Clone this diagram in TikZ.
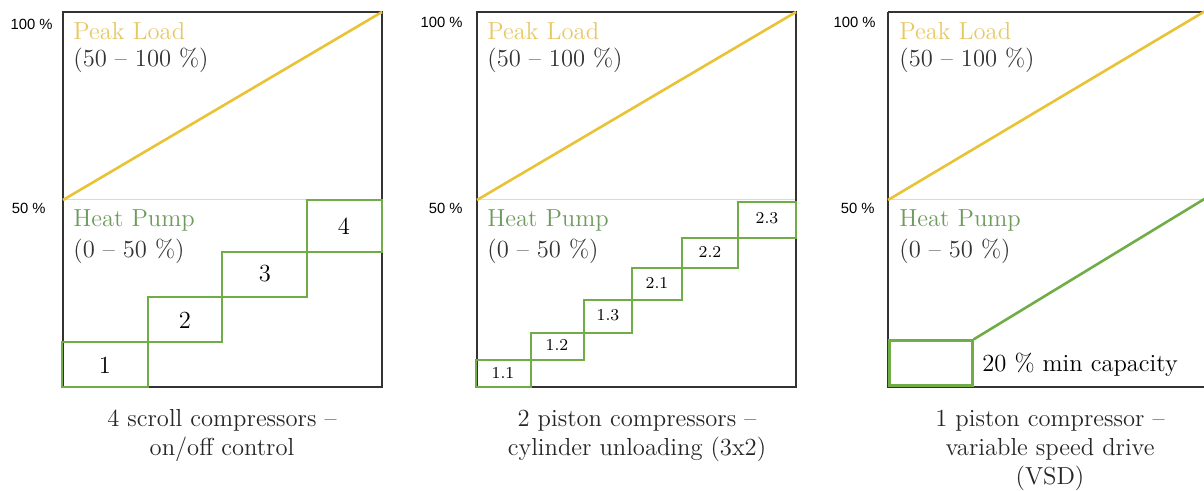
\documentclass[tikz,border=0pt]{standalone}
\usepackage{fontspec}
\newfontfamily\axfont{Liberation Sans}
\definecolor{peak}{HTML}{E9C236}
\definecolor{peaktxt}{HTML}{E8C865}
\definecolor{hp}{HTML}{70AD47}
\definecolor{hptxt}{HTML}{6E9B5E}
\definecolor{frame}{HTML}{333333}
\definecolor{mid}{HTML}{DADADA}
\tikzset{
  big/.style={font=\fontsize{12.3}{15}\selectfont, inner sep=0pt},
  small/.style={font=\fontsize{8.3}{10}\selectfont, inner sep=0pt},
  ax/.style={font=\axfont\fontsize{7.4}{9}\selectfont, inner sep=0pt},
  panel/.style={draw=frame, line width=0.8pt},
  midline/.style={draw=mid, line width=0.5pt},
  peakline/.style={draw=peak, line width=1.3pt},
  stepbox/.style={draw=hp, line width=1.3pt},
  hpline/.style={draw=hp, line width=1.3pt},
  caption/.style={big, align=center, text=black!85, font=\fontsize{12.3}{14.5}\selectfont}
}
\begin{document}
\begin{tikzpicture}[x=0.5pt,y=-0.5pt]
\useasboundingbox (0,0) rectangle (1204,491);
\fill[white] (0,0) rectangle (1204,491);

% ================= Panel 1 =================
\draw[midline] (63,200) -- (382,200);
\draw[panel] (63,12) rectangle (382,387);
\draw[peakline] (63,200) -- (382,12);
\node[ax, anchor=east] (p1a) at (53,24) {100 \%};
\node[ax, anchor=east] (p1b) at (46,208) {50 \%};
\node[big, anchor=west, text=peaktxt] (p1pl) at (73,31) {Peak Load};
\node[big, anchor=west, text=black!80] (p1pr) at (73,60) {(50 -- 100 \%)};
\node[big, anchor=west, text=hptxt] (p1hp) at (73,220) {Heat Pump};
\node[big, anchor=west, text=black!80] (p1hr) at (73,251) {(0 -- 50 \%)};
\draw[stepbox] (62,342) rectangle (148,387);
\draw[stepbox] (148,297) rectangle (222,342);
\draw[stepbox] (222,252) rectangle (307,297);
\draw[stepbox] (307,200) rectangle (382,252);
\node[big] (s1) at (105,365) {1};
\node[big] (s2) at (185,320) {2};
\node[big] (s3) at (265,274) {3};
\node[big] (s4) at (344,226) {4};
\node[caption] (c1) at (222,436) {4 scroll compressors --\\on/off control};

% ================= Panel 2 =================
\draw[midline] (477,200) -- (796,200);
\draw[panel] (477,12) rectangle (796,387);
\draw[peakline] (477,200) -- (796,12);
\node[ax, anchor=east] (p2a) at (463,22) {100 \%};
\node[ax, anchor=east] (p2b) at (463,208) {50 \%};
\node[big, anchor=west, text=peaktxt] (p2pl) at (487,31) {Peak Load};
\node[big, anchor=west, text=black!80] (p2pr) at (487,60) {(50 -- 100 \%)};
\node[big, anchor=west, text=hptxt] (p2hp) at (487,220) {Heat Pump};
\node[big, anchor=west, text=black!80] (p2hr) at (487,251) {(0 -- 50 \%)};
\draw[stepbox] (476,360) rectangle (531,387);
\draw[stepbox] (531,333) rectangle (584,360);
\draw[stepbox] (584,300) rectangle (632,333);
\draw[stepbox] (632,268) rectangle (682,300);
\draw[stepbox] (682,238) rectangle (738,268);
\draw[stepbox] (738,202) rectangle (796,238);
\node[small] (t11) at (503,373) {1.1};
\node[small] (t12) at (557,345) {1.2};
\node[small] (t13) at (608,315) {1.3};
\node[small] (t21) at (657,283) {2.1};
\node[small] (t22) at (710,252) {2.2};
\node[small] (t23) at (767,218) {2.3};
\node[caption] (c2) at (637,436) {2 piston compressors --\\cylinder unloading (3x2)};

% ================= Panel 3 =================
\begin{scope}
\clip (820,0) rectangle (1204,491);
\draw[midline] (888,200) -- (1210,200);
\draw[panel] (888,12) -- (1210,12);
\draw[panel] (888,12) -- (888,387) -- (1210,387);
\draw[peakline] (888,200) -- (1207,10);
\coordinate (vsdend) at (1206,198);
\end{scope}
\node[ax, anchor=east] (p3a) at (876,22) {100 \%};
\node[ax, anchor=east] (p3b) at (875,208) {50 \%};
\node[big, anchor=west, text=peaktxt] (p3pl) at (899,31) {Peak Load};
\node[big, anchor=west, text=black!80] (p3pr) at (899,60) {(50 -- 100 \%)};
\node[big, anchor=west, text=hptxt] (p3hp) at (899,220) {Heat Pump};
\node[big, anchor=west, text=black!80] (p3hr) at (899,251) {(0 -- 50 \%)};
\node[draw=hp, line width=1.3pt, minimum width=41.5pt, minimum height=22.5pt, inner sep=0pt, anchor=south west] (vsd) at (888,387) {};
\begin{scope}
\clip (820,0) rectangle (1204,491);
\draw[hpline] (vsd.north east) -- (vsdend);
\end{scope}
\node[big, anchor=west] (mincap) at (982,365) {20 \% min capacity};
\node[caption] (c3) at (1050,450) {1 piston compressor --\\variable speed drive\\(VSD)};
\end{tikzpicture}
\end{document}
